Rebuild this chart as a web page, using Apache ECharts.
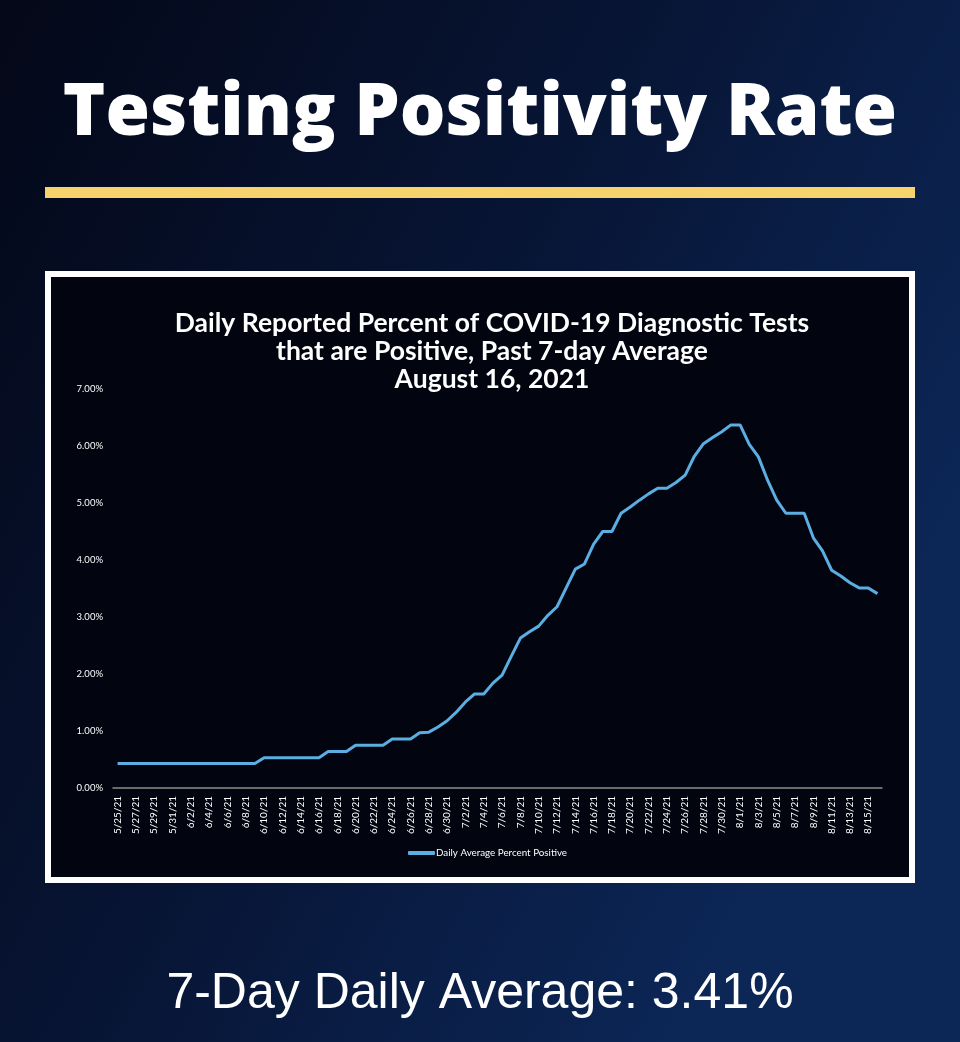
<!DOCTYPE html>
<html>
<head>
<meta charset="utf-8">
<script src="https://cdn.jsdelivr.net/npm/echarts@6/dist/echarts.min.js"></script>
<style>
html,body{margin:0;padding:0;background:#050a1c;}
#c{width:960px;height:1042px;}
</style>
</head>
<body>
<div id="c"></div>
<script>
var dates = [
"5/25/21","5/26/21","5/27/21","5/28/21","5/29/21","5/30/21","5/31/21",
"6/1/21","6/2/21","6/3/21","6/4/21","6/5/21","6/6/21","6/7/21","6/8/21","6/9/21","6/10/21",
"6/11/21","6/12/21","6/13/21","6/14/21","6/15/21","6/16/21","6/17/21","6/18/21","6/19/21","6/20/21",
"6/21/21","6/22/21","6/23/21","6/24/21","6/25/21","6/26/21","6/27/21","6/28/21","6/29/21","6/30/21",
"7/1/21","7/2/21","7/3/21","7/4/21","7/5/21","7/6/21","7/7/21","7/8/21","7/9/21","7/10/21",
"7/11/21","7/12/21","7/13/21","7/14/21","7/15/21","7/16/21","7/17/21","7/18/21","7/19/21","7/20/21",
"7/21/21","7/22/21","7/23/21","7/24/21","7/25/21","7/26/21","7/27/21","7/28/21","7/29/21","7/30/21",
"7/31/21","8/1/21","8/2/21","8/3/21","8/4/21","8/5/21","8/6/21","8/7/21","8/8/21","8/9/21",
"8/10/21","8/11/21","8/12/21","8/13/21","8/14/21","8/15/21","8/16/21"
];
var percentPositive = [
0.43,0.43,0.43,0.43,0.43,0.43,0.43,
0.43,0.43,0.43,0.43,0.43,0.43,0.43,0.43,0.43,0.53,
0.53,0.53,0.53,0.53,0.53,0.53,0.64,0.64,0.64,0.75,
0.75,0.75,0.75,0.86,0.86,0.86,0.97,0.98,1.07,1.18,
1.33,1.51,1.65,1.65,1.84,1.98,2.31,2.63,2.74,2.84,
3.03,3.18,3.51,3.84,3.93,4.28,4.50,4.50,4.82,4.93,
5.05,5.16,5.26,5.26,5.36,5.49,5.82,6.04,6.15,6.25,
6.37,6.37,6.03,5.81,5.40,5.05,4.82,4.82,4.82,4.39,
4.16,3.82,3.72,3.60,3.51,3.51,3.41
];
var yTicks = [0,1,2,3,4,5,6,7];
var pageTitle = "Testing Positivity Rate";
var chartTitle = "Daily Reported Percent of COVID-19 Diagnostic Tests\nthat are Positive, Past 7-day Average\nAugust 16, 2021";
var seriesName = "Daily Average Percent Positive";
var footer = "7-Day Daily Average: 3.41%";

var chart = echarts.init(document.getElementById('c'));
chart.setOption({
  animation: false,
  graphic: [
    {type:'rect', z:-10, shape:{x:0,y:0,width:960,height:1042},
     style:{fill:new echarts.graphic.LinearGradient(0,0,1,0.5,[
       {offset:0,color:'#040818'},{offset:0.5,color:'#071433'},{offset:1,color:'#0c2656'}])}},
    {type:'text', z:5, style:{text:pageTitle, x:480, y:114, textAlign:'center', textVerticalAlign:'middle',
      fill:'#ffffff', font:'800 72px "Open Sans"'}},
    {type:'rect', z:5, shape:{x:45,y:187,width:870,height:11}, style:{fill:'#f6d36c'}},
    {type:'rect', z:-5, shape:{x:48,y:274,width:864,height:606}, style:{fill:'#02040f', stroke:'#ffffff', lineWidth:6}},
    {type:'text', z:5, style:{text:chartTitle, x:492, y:309, textAlign:'center', textVerticalAlign:'top',
      fill:'#ffffff', font:'bold 26.5px Lato', lineHeight:28}},
    {type:'text', z:5, style:{text:footer, x:480, y:994, textAlign:'center', textVerticalAlign:'middle',
      fill:'#ffffff', font:'50px "Liberation Sans"'}}
  ],
  grid: {left:113, right:78, top:389, bottom:254, containLabel:false},
  legend: {
    data:[{name:seriesName, icon:'roundRect'}],
    left:403, top:843, itemWidth:27, itemHeight:4, itemGap:4,
    textStyle:{color:'#ffffff', fontSize:9.8, fontFamily:'Lato', padding:[0,0,0,-4]}
  },
  xAxis: {
    type:'category', data:dates, boundaryGap:true,
    axisLine:{lineStyle:{color:'#8c8c8c', width:1.5}},
    axisTick:{show:false},
    axisLabel:{interval:1, rotate:90, color:'#ffffff', fontSize:10, fontFamily:'Lato', margin:8}
  },
  yAxis: {
    type:'value', min:yTicks[0], max:yTicks[yTicks.length-1], interval:1,
    axisLine:{show:false}, axisTick:{show:false}, splitLine:{show:false},
    axisLabel:{color:'#ffffff', fontSize:9.5, fontFamily:'Lato', margin:10,
      formatter:function(v){return v.toFixed(2)+'%';}}
  },
  series: [{
    name:seriesName, type:'line', data:percentPositive, showSymbol:false, symbol:'none',
    lineStyle:{color:'#5aaee2', width:3}, itemStyle:{color:'#5aaee2'}
  }]
});
</script>
</body>
</html>
